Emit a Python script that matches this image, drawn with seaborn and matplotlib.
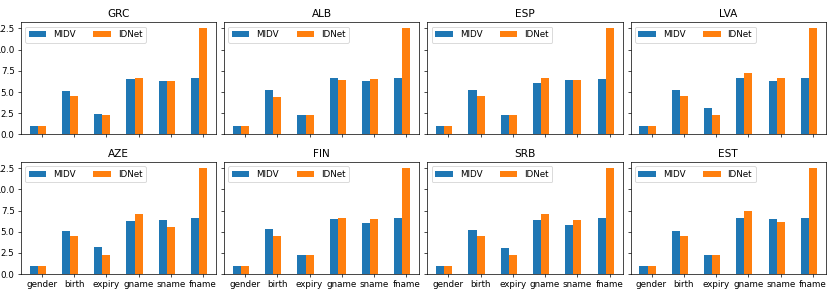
import numpy as np
import pandas as pd
import matplotlib
matplotlib.use("Agg")
import matplotlib.pyplot as plt
import seaborn as sns

fields = ["gender", "birth", "expiry", "gname", "sname", "fname"]
countries = ["GRC", "ALB", "ESP", "LVA", "AZE", "FIN", "SRB", "EST"]
series_names = ["MIDV", "IDNet"]

midv_values = [
    [1.0, 5.1, 2.4, 6.5, 6.3, 6.6],    # GRC
    [1.0, 5.25, 2.3, 6.6, 6.25, 6.6],  # ALB
    [1.0, 5.3, 2.35, 6.1, 6.4, 6.5],   # ESP
    [1.0, 5.2, 3.1, 6.6, 6.25, 6.6],   # LVA
    [1.0, 5.05, 3.2, 6.3, 6.4, 6.6],   # AZE
    [1.0, 5.3, 2.3, 6.5, 6.05, 6.6],   # FIN
    [1.0, 5.2, 3.05, 6.4, 5.85, 6.6],  # SRB
    [1.0, 5.05, 2.3, 6.6, 6.5, 6.6],   # EST
]
idnet_values = [
    [1.0, 4.5, 2.3, 6.6, 6.3, 12.6],    # GRC
    [1.0, 4.45, 2.35, 6.45, 6.5, 12.6], # ALB
    [1.0, 4.5, 2.35, 6.6, 6.45, 12.6],  # ESP
    [1.0, 4.5, 2.35, 7.25, 6.65, 12.6], # LVA
    [1.0, 4.5, 2.3, 7.1, 5.5, 12.55],   # AZE
    [1.0, 4.5, 2.3, 6.6, 6.55, 12.55],  # FIN
    [1.0, 4.5, 2.3, 7.15, 6.35, 12.55], # SRB
    [1.0, 4.5, 2.3, 7.5, 6.2, 12.55],   # EST
]

colors = ["#1f77b4", "#ff7f0e"]
bar_w = 0.25

dpi = 63
fig, axes = plt.subplots(2, 4, sharex=True, sharey=True,
                         figsize=(830 / dpi, 297 / dpi), dpi=dpi)
fig.subplots_adjust(left=0.025, right=0.995, top=0.925, bottom=0.077,
                    wspace=0.041, hspace=0.245)

pos = np.arange(len(fields), dtype=float)
for ax, country, mv, iv in zip(axes.flat, countries, midv_values, idnet_values):
    df_m = pd.DataFrame({"x": pos - bar_w, "y": mv})
    df_i = pd.DataFrame({"x": pos, "y": iv})
    sns.barplot(data=df_m, x="x", y="y", native_scale=True, orient="x",
                width=bar_w, color=colors[0], saturation=1, linewidth=0,
                label=series_names[0], ax=ax)
    sns.barplot(data=df_i, x="x", y="y", native_scale=True, orient="x",
                width=bar_w, color=colors[1], saturation=1, linewidth=0,
                label=series_names[1], ax=ax)
    ax.set_title(country)
    ax.set_xlabel("")
    ax.set_ylabel("")
    ax.legend(loc="upper left", ncol=2)

axes[0, 0].set_xticks(pos, labels=fields)
for ax in axes[0]:
    ax.tick_params(labelbottom=False)

fig.savefig("out.png", dpi=dpi)
